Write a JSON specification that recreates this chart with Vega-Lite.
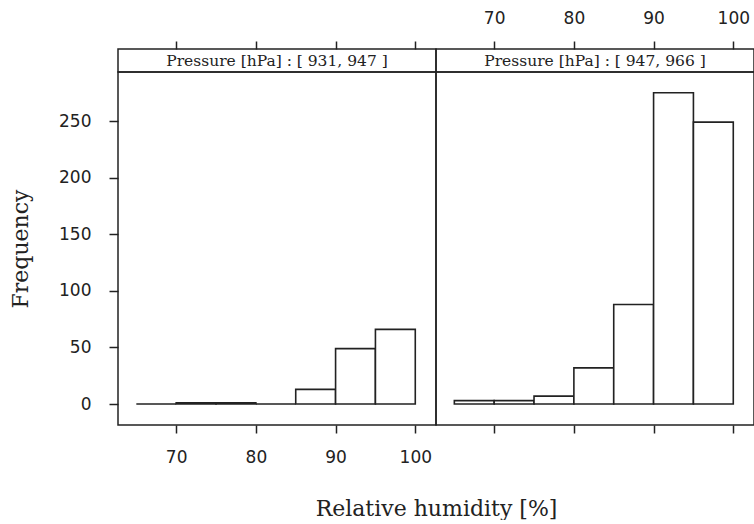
{
  "$schema": "https://vega.github.io/schema/vega-lite/v6.json",
  "background": "white",
  "padding": {"left": 8, "top": 8, "right": 0, "bottom": 0},
  "datasets": {
    "left": [
      {"lo": 65, "hi": 70, "count": 0},
      {"lo": 70, "hi": 75, "count": 1},
      {"lo": 75, "hi": 80, "count": 1},
      {"lo": 80, "hi": 85, "count": 0},
      {"lo": 85, "hi": 90, "count": 13},
      {"lo": 90, "hi": 95, "count": 49},
      {"lo": 95, "hi": 100, "count": 66}
    ],
    "right": [
      {"lo": 65, "hi": 70, "count": 3},
      {"lo": 70, "hi": 75, "count": 3},
      {"lo": 75, "hi": 80, "count": 7},
      {"lo": 80, "hi": 85, "count": 32},
      {"lo": 85, "hi": 90, "count": 88},
      {"lo": 90, "hi": 95, "count": 275},
      {"lo": 95, "hi": 100, "count": 249}
    ],
    "stripL": [{"label": "Pressure [hPa] : [ 931, 947 ]"}],
    "stripR": [{"label": "Pressure [hPa] : [ 947, 966 ]"}]
  },
  "config": {
    "view": {"stroke": "#222", "strokeWidth": 1.5},
    "axis": {
      "grid": false, "domain": false,
      "tickColor": "#222", "tickWidth": 1.5,
      "labelFont": "DejaVu Sans", "labelFontSize": 17, "labelColor": "#222",
      "labelFlush": false, "labelOverlap": false,
      "titleFont": "DejaVu Serif", "titleFontSize": 22, "titleFontWeight": "normal", "titleColor": "#222"
    },
    "concat": {"spacing": 0}
  },
  "columns": 2,
  "spacing": 0,
  "bounds": "flush",
  "concat": [
    {
      "width": 318, "height": 23,
      "layer": [
        {
          "data": {"name": "left"},
          "mark": {"type": "point", "opacity": 0},
          "encoding": {
            "x": {"field": "lo", "type": "quantitative",
                  "scale": {"domain": [62.7, 102.6], "nice": false, "zero": false},
                  "axis": {"orient": "top", "values": [70, 80, 90, 100], "labels": false, "tickSize": 8, "title": null}}
          }
        },
        {
          "data": {"name": "stripL"},
          "mark": {"type": "text", "font": "DejaVu Serif", "fontSize": 15.5, "color": "#222"},
          "encoding": {"text": {"field": "label"}}
        }
      ]
    },
    {
      "width": 318, "height": 23,
      "layer": [
        {
          "data": {"name": "right"},
          "mark": {"type": "point", "opacity": 0},
          "encoding": {
            "x": {"field": "lo", "type": "quantitative",
                  "scale": {"domain": [62.7, 102.6], "nice": false, "zero": false},
                  "axis": {"orient": "top", "values": [70, 80, 90, 100], "tickSize": 8, "labelPadding": 14, "title": null}}
          }
        },
        {
          "data": {"name": "stripR"},
          "mark": {"type": "text", "font": "DejaVu Serif", "fontSize": 15.5, "color": "#222"},
          "encoding": {"text": {"field": "label"}}
        }
      ]
    },
    {
      "width": 318, "height": 353,
      "data": {"name": "left"},
      "mark": {"type": "bar", "fill": "white", "stroke": "#222", "strokeWidth": 1.6},
      "encoding": {
        "x": {"field": "lo", "type": "quantitative",
              "scale": {"domain": [62.7, 102.6], "nice": false, "zero": false},
              "axis": {"values": [70, 80, 90, 100], "tickSize": 8, "labelPadding": 16,
                       "title": "Relative humidity [%]", "titleX": 318, "titlePadding": 33}},
        "x2": {"field": "hi"},
        "y": {"field": "count", "type": "quantitative",
              "scale": {"domain": [-18.5, 293.3], "nice": false, "zero": false},
              "axis": {"values": [0, 50, 100, 150, 200, 250], "tickSize": 9, "labelPadding": 18,
                       "title": "Frequency", "titlePadding": 26}},
        "y2": {"datum": 0}
      }
    },
    {
      "width": 318, "height": 353,
      "data": {"name": "right"},
      "mark": {"type": "bar", "fill": "white", "stroke": "#222", "strokeWidth": 1.6},
      "encoding": {
        "x": {"field": "lo", "type": "quantitative",
              "scale": {"domain": [62.7, 102.6], "nice": false, "zero": false},
              "axis": {"values": [70, 80, 90, 100], "tickSize": 8, "labels": false, "title": null}},
        "x2": {"field": "hi"},
        "y": {"field": "count", "type": "quantitative",
              "scale": {"domain": [-18.5, 293.3], "nice": false, "zero": false},
              "axis": null},
        "y2": {"datum": 0}
      }
    }
  ]
}
